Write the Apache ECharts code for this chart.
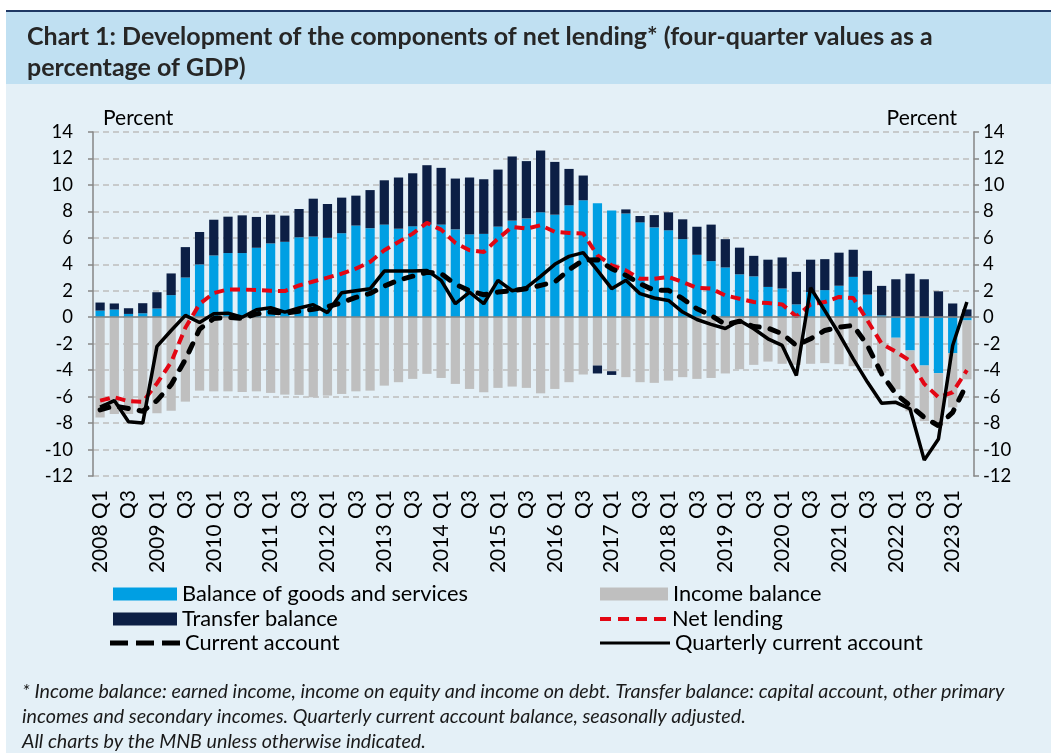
<!DOCTYPE html>
<html>
<head>
<meta charset="utf-8">
<script src="https://cdn.jsdelivr.net/npm/echarts@6/dist/echarts.min.js"></script>
<style>
html,body{margin:0;padding:0;background:#ffffff;}
#chart{width:1051px;height:753px;}
</style>
</head>
<body>
<div id="chart"></div>
<script>
const categories = [
  "2008 Q1","Q2","Q3","Q4","2009 Q1","Q2","Q3","Q4","2010 Q1","Q2","Q3","Q4",
  "2011 Q1","Q2","Q3","Q4","2012 Q1","Q2","Q3","Q4","2013 Q1","Q2","Q3","Q4",
  "2014 Q1","Q2","Q3","Q4","2015 Q1","Q2","Q3","Q4","2016 Q1","Q2","Q3","Q4",
  "2017 Q1","Q2","Q3","Q4","2018 Q1","Q2","Q3","Q4","2019 Q1","Q2","Q3","Q4",
  "2020 Q1","Q2","Q3","Q4","2021 Q1","Q2","Q3","Q4","2022 Q1","Q2","Q3","Q4",
  "2023 Q1","Q2"
];
const goodsServices = [0.5,0.58,0.25,0.3,0.66,1.67,3.0,3.99,4.67,4.85,4.85,5.25,
  5.58,5.7,6.04,6.1,6.0,6.35,6.93,6.73,7.0,6.69,6.87,7.0,
  7.0,6.64,6.26,6.3,6.85,7.3,7.47,7.93,7.75,8.46,8.84,8.62,
  8.06,7.84,7.17,6.79,6.57,5.9,4.72,4.24,3.76,3.24,3.09,2.29,
  2.17,0.97,1.9,2.05,2.38,3.05,1.71,0.14,-1.55,-2.51,-3.65,-4.23,
  -2.72,-0.24];
const incomeBalance = [-7.57,-7.31,-7.31,-7.26,-7.26,-7.06,-6.38,-5.55,-5.6,-5.6,-5.65,-5.6,
  -5.72,-5.85,-5.87,-6.05,-5.92,-5.8,-5.6,-5.55,-5.17,-4.91,-4.66,-4.28,
  -4.59,-5.04,-5.42,-5.67,-5.34,-5.24,-5.34,-5.75,-5.42,-4.91,-4.33,-3.65,
  -4.08,-4.53,-4.91,-4.96,-4.79,-4.53,-4.66,-4.59,-4.25,-3.93,-3.6,-3.35,
  -3.52,-3.6,-3.52,-3.47,-3.55,-3.7,-3.85,-4.2,-3.9,-4.6,-4.2,-4.0,
  -4.1,-4.45];
const transferBalance = [0.61,0.46,0.43,0.76,1.23,1.64,2.3,2.45,2.7,2.75,2.85,2.33,
  2.17,1.98,2.14,2.86,2.56,2.69,2.26,2.88,3.35,3.87,4.01,4.49,
  4.29,3.84,4.3,4.13,4.31,4.85,4.33,4.67,3.99,2.75,1.87,-0.6,
  -0.28,0.31,0.48,0.93,1.36,1.5,2.12,2.76,2.14,2.02,1.55,2.06,
  2.35,2.46,2.45,2.34,2.5,2.05,1.8,2.23,2.87,3.29,2.87,1.96,
  1.04,0.59];
const netLending = [-6.3,-6.05,-6.35,-6.4,-5.0,-3.4,-0.8,1.0,1.83,2.1,2.1,2.05,
  2.0,1.98,2.4,2.7,2.99,3.29,3.67,4.18,5.06,5.69,6.32,7.13,
  6.62,5.62,5.06,4.93,5.94,6.83,6.7,6.95,6.45,6.37,6.32,4.68,
  3.92,3.54,2.91,2.91,3.04,2.66,2.23,2.16,1.65,1.4,1.15,1.07,
  0.97,0.06,0.97,1.15,1.53,1.45,-0.24,-2.0,-2.6,-3.3,-5.04,-6.05,
  -5.67,-4.0];
const currentAccount = [-7.0,-6.7,-6.9,-7.1,-6.3,-5.1,-3.2,-0.9,-0.1,0.0,-0.1,0.25,
  0.4,0.3,0.45,0.6,0.8,1.1,1.5,1.8,2.35,2.8,3.1,3.4,
  3.3,2.5,2.0,1.7,1.9,2.0,2.16,2.41,2.66,3.6,4.3,4.35,
  3.67,3.17,2.53,2.03,2.03,1.4,0.64,0.14,-0.55,-0.3,-0.7,-0.82,
  -1.25,-2.13,-1.63,-1.0,-0.75,-0.62,-2.13,-4.28,-5.8,-6.68,-7.57,-8.2,
  -7.19,-5.04];
const quarterlyCurrentAccount = [-6.8,-6.3,-7.9,-8.0,-2.2,-1.0,0.14,-0.4,0.26,0.31,0.0,0.57,
  0.72,0.39,0.7,0.95,0.35,1.85,2.0,2.15,3.49,3.49,3.49,3.54,
  2.79,1.02,1.9,1.02,2.79,2.0,2.23,3.09,4.0,4.6,4.88,3.54,
  2.16,2.79,1.78,1.45,1.27,0.39,-0.17,-0.54,-0.85,-0.24,-0.87,-1.63,
  -2.13,-4.4,2.23,0.5,-1.25,-3.15,-4.9,-6.5,-6.43,-6.93,-10.8,-9.2,
  -2.14,1.15];
const yTicks = {min: -12, max: 14, interval: 2};

const FONT = 'Lato';
const chart = echarts.init(document.getElementById('chart'), null, {renderer: 'canvas'});

const ICON_RED_DASH = 'path://M0,0h11v4h-11z M18,0h11v4h-11z M36,0h11v4h-11z M54,0h12v4h-12z';
const ICON_BLACK_DASH = 'path://M0,0h18v5h-18z M26,0h18v5h-18z M52,0h18v5h-18z';
const ICON_SOLID = 'path://M0,0h70v3h-70z';

function legendAt(name, left, top, w, h, icon, gap) {
  return {
    data: [name], left: left, top: top, padding: 0,
    itemWidth: w, itemHeight: h, itemGap: 0, itemTextGap: gap,
    icon: icon, selectedMode: false,
    itemStyle: {borderWidth: 0},
    lineStyle: {width: 0},
    textStyle: {fontFamily: FONT, fontSize: 21.8, color: '#000', lineHeight: 22}
  };
}

const option = {
  animation: false,
  backgroundColor: 'transparent',
  title: {
    text: 'Chart 1: Development of the components of net lending* (four-quarter values as a\npercentage of GDP)',
    left: 22, top: 16,
    textStyle: {fontFamily: FONT, fontWeight: 'bold', fontSize: 25, lineHeight: 31, color: '#262626'}
  },
  graphic: [
    {type: 'rect', z: -100, shape: {x: 6, y: 10, width: 1045, height: 2}, style: {fill: '#1f3864'}, silent: true},
    {type: 'rect', z: -100, shape: {x: 6, y: 12, width: 1045, height: 72}, style: {fill: '#c0e0f2'}, silent: true},
    {type: 'rect', z: -100, shape: {x: 6, y: 84, width: 1045, height: 669}, style: {fill: '#e4f0f7'}, silent: true},
    {type: 'text', z: 10, left: 22, top: 679, silent: true,
     style: {
       text: '* Income balance: earned income, income on equity and income on debt. Transfer balance: capital account, other primary\nincomes and secondary incomes. Quarterly current account balance, seasonally adjusted.\nAll charts by the MNB unless otherwise indicated.',
       font: 'italic 19.7px Lato', lineHeight: 25, fill: '#1a1a1a'
     }}
  ],
  legend: [
    legendAt('Balance of goods and services', 113, 583, 64, 13, 'rect', 8),
    legendAt('Transfer balance', 113, 608, 64, 13, 'rect', 8),
    legendAt('Current account', 110, 632, 70, 5, ICON_BLACK_DASH, 10),
    legendAt('Income balance', 600, 583, 68, 13, 'rect', 8),
    legendAt('Net lending', 600, 608, 68, 4, ICON_RED_DASH, 8),
    legendAt('Quarterly current account', 600, 632, 70, 3, ICON_SOLID, 10)
  ],
  grid: {left: 93, right: 77, top: 132, bottom: 277, containLabel: false},
  xAxis: {
    type: 'category', data: categories, boundaryGap: true,
    axisLine: {show: false}, axisTick: {show: false},
    axisLabel: {interval: 1, rotate: 90, margin: 14, fontFamily: FONT, fontSize: 21, color: '#000'}
  },
  yAxis: [
    {
      type: 'value', min: yTicks.min, max: yTicks.max, interval: yTicks.interval, position: 'left',
      name: 'Percent', nameLocation: 'end', nameGap: 3,
      nameTextStyle: {fontFamily: FONT, fontSize: 21, color: '#000', align: 'left', padding: [0, 0, 0, 10]},
      axisLine: {show: true, lineStyle: {color: '#868686', width: 1.5}},
      axisTick: {show: true, inside: false, length: 5, lineStyle: {color: '#868686', width: 1.5}},
      axisLabel: {margin: 20, fontFamily: FONT, fontSize: 18.5, color: '#000'},
      splitLine: {show: true, lineStyle: {color: '#bdbdbd', width: 1.5, type: [6, 4]}}
    },
    {
      type: 'value', min: yTicks.min, max: yTicks.max, interval: yTicks.interval, position: 'right',
      name: 'Percent', nameLocation: 'end', nameGap: 3,
      nameTextStyle: {fontFamily: FONT, fontSize: 21, color: '#000', align: 'right', padding: [0, 17, 0, 0]},
      axisLine: {show: true, lineStyle: {color: '#868686', width: 1.5}},
      axisTick: {show: true, inside: false, length: 5, lineStyle: {color: '#868686', width: 1.5}},
      axisLabel: {margin: 9, fontFamily: FONT, fontSize: 18.5, color: '#000'},
      splitLine: {show: false}
    }
  ],
  series: [
    {
      name: 'Balance of goods and services', type: 'bar', stack: 'nl', data: goodsServices,
      barWidth: '65%', itemStyle: {color: '#009fe3'},
      markLine: {
        silent: true, symbol: ['none', 'none'], label: {show: false},
        lineStyle: {color: '#868686', type: 'solid', width: 1.5},
        data: [{yAxis: 0}]
      }
    },
    {name: 'Income balance', type: 'bar', stack: 'nl', data: incomeBalance, barWidth: '65%', itemStyle: {color: '#bfbfbf'}},
    {name: 'Transfer balance', type: 'bar', stack: 'nl', data: transferBalance, barWidth: '65%', itemStyle: {color: '#0c1f45'}},
    {
      name: 'Net lending', type: 'line', data: netLending, symbol: 'none', z: 4,
      lineStyle: {color: '#e30613', width: 4, type: [10, 6]}, itemStyle: {color: '#e30613'}
    },
    {
      name: 'Current account', type: 'line', data: currentAccount, symbol: 'none', z: 5,
      lineStyle: {color: '#000', width: 5, type: [9, 11], cap: 'round'}, itemStyle: {color: '#000'}
    },
    {
      name: 'Quarterly current account', type: 'line', data: quarterlyCurrentAccount, symbol: 'none', z: 6,
      lineStyle: {color: '#000', width: 3.5}, itemStyle: {color: '#000'}
    }
  ]
};
chart.setOption(option);
</script>
</body>
</html>
